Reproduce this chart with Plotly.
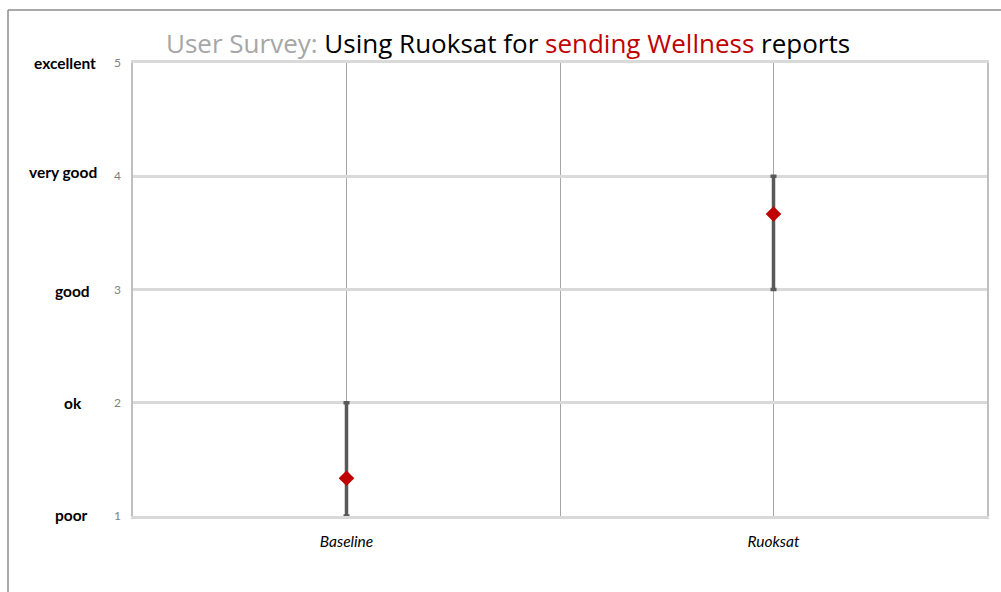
import plotly.graph_objects as go

# Survey results: mean score and the range of answers per group
groups = ["Baseline", "Ruoksat"]
group_pos = [1, 3]
mean_scores = [1.333, 3.667]
low_scores = [1, 3]
high_scores = [2, 4]

# Rating scale
scale_values = [1, 2, 3, 4, 5]
scale_names = ["poor", "ok", "good", "very good", "excellent"]
scale_name_x = [71, 73, 72, 63, 65]  # pixel centres of the rating names
scale_name_shift = [1, 0, -1, 4, 0]  # small vertical nudges of the rating names

W, H = 1001, 592
L, R, T, B = 133, 14, 63, 76
pw, ph = W - L - R, H - T - B


def px_x(x):
    return (x - L) / pw


def px_y(y):
    return (H - B - y) / ph


err_plus = [h - m for h, m in zip(high_scores, mean_scores)]
err_minus = [m - l for m, l in zip(mean_scores, low_scores)]

fig = go.Figure()
fig.add_trace(go.Scatter(
    x=group_pos, y=mean_scores, mode="markers",
    marker=dict(symbol="diamond", size=12, color="#C00000", line=dict(width=0)),
    error_y=dict(type="data", symmetric=False, array=err_plus, arrayminus=err_minus,
                 color="#595959", thickness=3.5, width=3),
    showlegend=False, hoverinfo="skip",
))

annotations = []
for v, name, cx, dy in zip(scale_values, scale_names, scale_name_x, scale_name_shift):
    annotations.append(dict(
        xref="paper", yref="y", x=px_x(cx), y=v, yshift=dy, text=name, showarrow=False,
        xanchor="center", yanchor="middle",
        font=dict(family="Lato, Carlito, sans-serif", size=15.5, color="#000000", weight="bold"),
    ))

title_html = ("<span style='color:#A6A6A6'>User Survey:</span> Using Ruoksat for "
              "<span style='color:#C00000'>sending Wellness</span> reports")
annotations.append(dict(
    xref="paper", yref="paper", x=px_x(508), y=px_y(43), text=title_html, showarrow=False,
    xanchor="center", yanchor="middle",
    font=dict(family="Open Sans, sans-serif", size=26, color="#000000"),
))

fig.update_layout(
    width=W, height=H,
    margin=dict(l=L, r=R, t=T, b=B),
    paper_bgcolor="white", plot_bgcolor="white",
    annotations=annotations,
    shapes=[
        # outer chart frame
        dict(type="line", xref="paper", yref="paper", x0=px_x(8), x1=px_x(1010),
             y0=px_y(10), y1=px_y(10), line=dict(color="#8C8C8C", width=1.5)),
        dict(type="line", xref="paper", yref="paper", x0=px_x(8), x1=px_x(8),
             y0=px_y(10), y1=px_y(600), line=dict(color="#8C8C8C", width=1.5)),
    ],
    xaxis=dict(
        range=[0, 4], tickvals=[0, 1, 2, 3, 4],
        ticktext=["", groups[0], "", groups[1], ""],
        showgrid=True, gridcolor="#A6A6A6", gridwidth=1,
        zeroline=False, showline=True, mirror=True, linecolor="#D9D9D9", linewidth=2.5,
        ticks="",
        tickfont=dict(family="Lato, Carlito, sans-serif", size=15.5, color="#000000", style="italic"),
        ticklabelstandoff=10,
    ),
    yaxis=dict(
        range=[1, 5], tickvals=scale_values,
        showgrid=True, gridcolor="#D9D9D9", gridwidth=2.5,
        zeroline=False, showline=True, mirror=True, linecolor="#BFBFBF", linewidth=1.5,
        ticks="", ticklabelstandoff=8,
        tickfont=dict(family="Lato, Carlito, sans-serif", size=12, color="#7F7F7F"),
    ),
)

fig.write_html("out.html")
